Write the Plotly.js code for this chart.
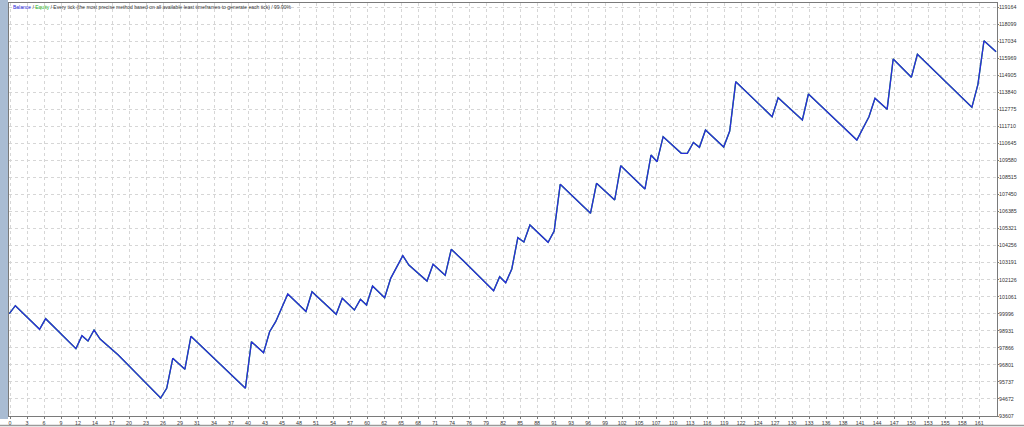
<!DOCTYPE html>
<html>
<head>
<meta charset="utf-8">
<script src="https://cdn.plot.ly/plotly-3.0.1.min.js"></script>
<style>
html,body{margin:0;padding:0;background:#fff;}
#chart{width:1024px;height:427px;}
</style>
</head>
<body>
<div id="chart"></div>
<script>
// Trade number (x) and account balance (y) at the turning points of the curve
const tradeNo = [0,1,5,6,11,12,13,14,15,18,25,26,27,29,30,39,40,42,43,44,46,49,50,54,55,57,58,59,60,62,63,65,66,69,70,72,73,75,80,81,82,83,84,85,86,89,90,91,96,97,100,101,105,106,107,108,111,112,113,114,115,118,119,120,126,127,131,132,140,142,143,145,146,149,150,159,160,161,163];
const balance = [100000,100499,99025,99688,97812,98625,98294,98981,98418,97419,94732,95339,97213,96525,98587,95339,98250,97563,98875,99500,101230,100137,101374,99962,100962,100231,100899,100543,101730,100999,102211,103624,103042,102042,103086,102399,104023,103311,101436,102311,101936,102793,104748,104480,105542,104461,105166,108085,106273,108147,107104,109247,107791,109915,109497,111059,110021,110021,110697,110397,111477,110415,111415,114496,112308,113496,112102,113727,110852,112308,113459,112771,115914,114770,116208,112896,114333,117057,116370];
const equity = balance.slice();

// Axis tick labels
const xTickLabels = [0,3,6,9,12,14,17,20,23,26,29,31,34,37,40,43,45,48,51,54,57,60,62,65,68,71,74,76,79,82,85,88,91,93,96,99,102,105,107,110,113,116,119,122,124,127,130,133,136,138,141,144,147,150,153,155,158,161];
const yTickLabels = [93607,94672,95737,96801,97866,98931,99996,101061,102126,103191,104256,105321,106385,107450,108515,109580,110645,111710,112775,113840,114905,115969,117034,118099,119164];
const headerParts = ["Balance", "Equity", "Every tick (the most precise method based on all available least timeframes to generate each tick)", "99.90%"];

const xStep = 2.8085, xOffset = 0.12;
const xTickVals = xTickLabels.map((v, i) => xOffset + i * xStep);

const W = 1024, H = 427;
const M = {l: 9, r: 27, t: 3, b: 11};
const pw = W - M.l - M.r, ph = H - M.t - M.b;

const traces = [
  {x: tradeNo, y: equity, type: 'scatter', mode: 'lines',
   line: {color: '#20c020', width: 1.3}, hoverinfo: 'skip', showlegend: false},
  {x: tradeNo, y: balance, type: 'scatter', mode: 'lines',
   line: {color: '#2b2bdc', width: 1.35}, showlegend: false}
];

const tickFont = {family: 'Liberation Sans, Arial, sans-serif', size: 5.3, color: '#333333'};

const layout = {
  width: W, height: H,
  margin: M,
  paper_bgcolor: '#ffffff', plot_bgcolor: '#ffffff',
  showlegend: false,
  xaxis: {
    range: [-0.05, 163.15],
    tickmode: 'array', tickvals: xTickVals, ticktext: xTickLabels.map(String),
    showgrid: true, gridcolor: '#d6d6d6', griddash: 'dot', gridwidth: 1,
    zeroline: false,
    showline: true, linecolor: '#7a7a7a', linewidth: 1, mirror: true,
    ticks: 'outside', ticklen: 2, tickcolor: '#7a7a7a',
    tickfont: tickFont, tickangle: 0
  },
  yaxis: {
    side: 'right',
    range: [93607, 119414],
    tickmode: 'array', tickvals: yTickLabels, ticktext: yTickLabels.map(String),
    showgrid: true, gridcolor: '#d6d6d6', griddash: 'dot', gridwidth: 1,
    zeroline: false,
    showline: true, linecolor: '#7a7a7a', linewidth: 1, mirror: true,
    ticks: 'outside', ticklen: 1, tickcolor: '#7a7a7a',
    tickfont: tickFont, ticklabelstandoff: -1
  },
  shapes: [
    {type: 'rect', xref: 'paper', yref: 'paper',
     x0: -M.l / pw, x1: -1 / pw, y0: -3 / ph, y1: 1 + M.t / ph,
     fillcolor: '#a9bcd3', line: {width: 0}, layer: 'below'},
    {type: 'line', xref: 'paper', yref: 'paper',
     x0: -M.l / pw, x1: 1 + M.r / pw, y0: -(M.b - 1.5) / ph, y1: -(M.b - 1.5) / ph,
     line: {color: '#9a9a9a', width: 1.5}}
  ],
  annotations: [
    {xref: 'paper', yref: 'paper', x: 2 / pw, y: 1 - 4 / ph,
     xanchor: 'left', yanchor: 'middle', showarrow: false,
     font: {family: 'Liberation Sans, Arial, sans-serif', size: 5.0, color: '#333333'},
     text: '<span style="color:#2b2bdc">' + headerParts[0] + '</span> / ' +
           '<span style="color:#20b020">' + headerParts[1] + '</span> / ' +
           headerParts[2] + ' / ' + headerParts[3]}
  ]
};

Plotly.newPlot('chart', traces, layout, {displayModeBar: false, staticPlot: true});
</script>
</body>
</html>
